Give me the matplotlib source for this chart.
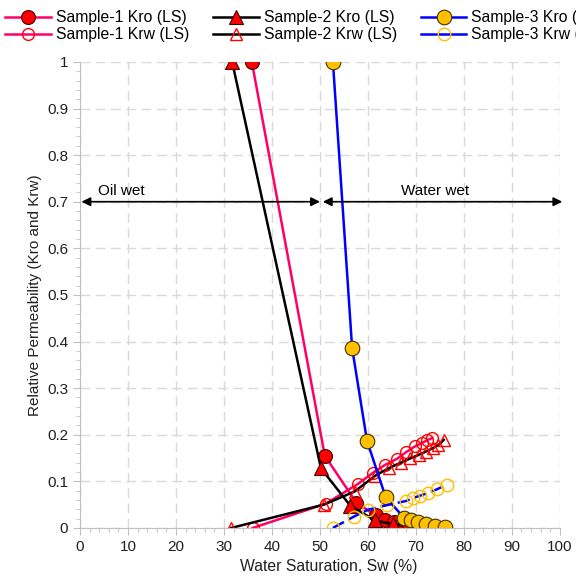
import matplotlib
matplotlib.use("Agg")
import matplotlib.pyplot as plt
from matplotlib.lines import Line2D
from matplotlib.ticker import MultipleLocator

plt.rcParams['font.family'] = ['Liberation Sans', 'DejaVu Sans']

# Sample-1 (LS)
s1_sw_kro = [35.8, 51.0, 57.6, 61.6, 63.5, 65.5, 67.2, 69.0, 70.6, 72.1, 73.6, 75.0]
s1_kro = [1.0, 0.155, 0.054, 0.027, 0.018, 0.012, 0.008, 0.005, 0.003, 0.002, 0.001, 0.0]
s1_sw_krw = [36.0, 51.2, 58.0, 61.0, 63.5, 66.0, 68.0, 69.8, 71.2, 72.3, 73.4]
s1_krw = [0.0, 0.052, 0.095, 0.118, 0.135, 0.148, 0.163, 0.175, 0.182, 0.188, 0.193]

# Sample-2 (LS)
s2_sw_kro = [31.7, 50.2, 56.3, 61.5, 65.2, 68.0, 70.4, 72.4, 74.0, 75.5]
s2_kro = [1.0, 0.128, 0.048, 0.016, 0.008, 0.005, 0.003, 0.002, 0.001, 0.0]
s2_sw_krw = [31.5, 50.8, 57.2, 61.5, 64.3, 66.8, 68.8, 70.6, 72.1, 73.5, 74.7, 75.8]
s2_krw = [0.0, 0.05, 0.078, 0.112, 0.128, 0.14, 0.149, 0.157, 0.164, 0.171, 0.178, 0.189]

# Sample-3 (AS)
s3_sw_kro = [52.7, 56.7, 59.8, 63.7, 67.5, 69.0, 70.4, 72.0, 73.9, 76.0]
s3_kro = [1.0, 0.386, 0.187, 0.066, 0.022, 0.017, 0.012, 0.008, 0.005, 0.003]
s3_sw_krw = [52.7, 57.0, 60.0, 64.0, 68.0, 69.4, 70.8, 72.5, 74.4, 76.4]
s3_krw = [0.0, 0.024, 0.039, 0.049, 0.058, 0.064, 0.069, 0.075, 0.083, 0.093]

fig = plt.figure(figsize=(5.76, 5.84), dpi=100)
ax = fig.add_axes([0.139, 0.096, 0.833, 0.798])

pink = '#FF0066'
red = '#FF0000'
gold = '#FFC000'
blue = '#0000FF'

h1, = ax.plot(s1_sw_kro, s1_kro, '-', color=pink, lw=1.8, marker='o', ms=10,
              mfc=red, mec='#400000', mew=0.8, label='Sample-1 Kro (LS)')
h2, = ax.plot(s1_sw_krw, s1_krw, '-', color=pink, lw=1.8, marker='o', ms=8.5,
              mfc='none', mec=red, mew=1.0, label='Sample-1 Krw (LS)')
h3, = ax.plot(s2_sw_kro, s2_kro, '-', color='black', lw=1.8, marker='^', ms=10,
              mfc=red, mec='#400000', mew=0.8, label='Sample-2 Kro (LS)')
h4, = ax.plot(s2_sw_krw, s2_krw, '-', color='black', lw=1.8, marker='^', ms=9,
              mfc='none', mec=red, mew=1.0, label='Sample-2 Krw (LS)')
h5, = ax.plot(s3_sw_kro, s3_kro, '-', color=blue, lw=1.8, marker='o', ms=10.5,
              mfc=gold, mec='#403000', mew=0.8, label='Sample-3 Kro (AS)')
ax.plot(s3_sw_krw, s3_krw, color=blue, lw=1.8, ls=(0, (5, 2)), marker='o', ms=9,
        mfc='none', mec=gold, mew=1.0)
# legend shows the Krw line of sample 3 as solid
h6 = Line2D([], [], color=blue, lw=1.8, marker='o', ms=9, mfc='none', mec=gold,
            mew=1.0, label='Sample-3 Krw (AS)')

ax.set_xlim(0, 100)
ax.set_ylim(0, 1)
ax.xaxis.set_major_locator(MultipleLocator(10))
ax.xaxis.set_minor_locator(MultipleLocator(2))
ax.yaxis.set_major_locator(MultipleLocator(0.1))
ax.yaxis.set_minor_locator(MultipleLocator(0.02))
ax.set_yticks([i / 10 for i in range(11)])
ax.set_yticklabels(['0'] + ['0.%d' % i for i in range(1, 10)] + ['1'])
ax.grid(True, which='major', color='#D9D9D9', ls=(0, (7, 4)), lw=1.0)
ax.set_axisbelow(True)
for s in ['top', 'right']:
    ax.spines[s].set_visible(False)
for s in ['left', 'bottom']:
    ax.spines[s].set_color('#BFBFBF')
ax.tick_params(which='both', color='#BFBFBF', labelsize=11, labelcolor='#202020')
ax.tick_params(which='major', length=5)
ax.tick_params(which='minor', length=3)

ax.set_xlabel('Water Saturation, Sw (%)', fontsize=11.3, color='#202020')
ax.xaxis.label.set_x(0.518)
ax.set_ylabel('Relative Permeability (Kro and Krw)', fontsize=11, color='#202020')

# wettability arrows
ax.annotate('', xy=(0.3, 0.7), xytext=(50, 0.7),
            arrowprops=dict(arrowstyle='<|-|>', color='black', lw=1.2, mutation_scale=13,
                            shrinkA=0, shrinkB=0), annotation_clip=False)
ax.annotate('', xy=(50.6, 0.7), xytext=(100.5, 0.7),
            arrowprops=dict(arrowstyle='<|-|>', color='black', lw=1.2, mutation_scale=13,
                            shrinkA=0, shrinkB=0), annotation_clip=False)
ax.text(3.8, 0.708, 'Oil wet', fontsize=11, ha='left', va='bottom')
ax.text(74, 0.708, 'Water wet', fontsize=11, ha='center', va='bottom')

fig.legend(handles=[h1, h2, h3, h4, h5, h6], loc='upper left',
           bbox_to_anchor=(0.0, 1.0 - 5 / 584), ncol=3, frameon=False,
           fontsize=11.3, handlelength=2.9, columnspacing=1.55, handletextpad=0.3,
           labelspacing=0.1, borderaxespad=0.0, borderpad=0.35)

fig.savefig('out.png', dpi=100)
